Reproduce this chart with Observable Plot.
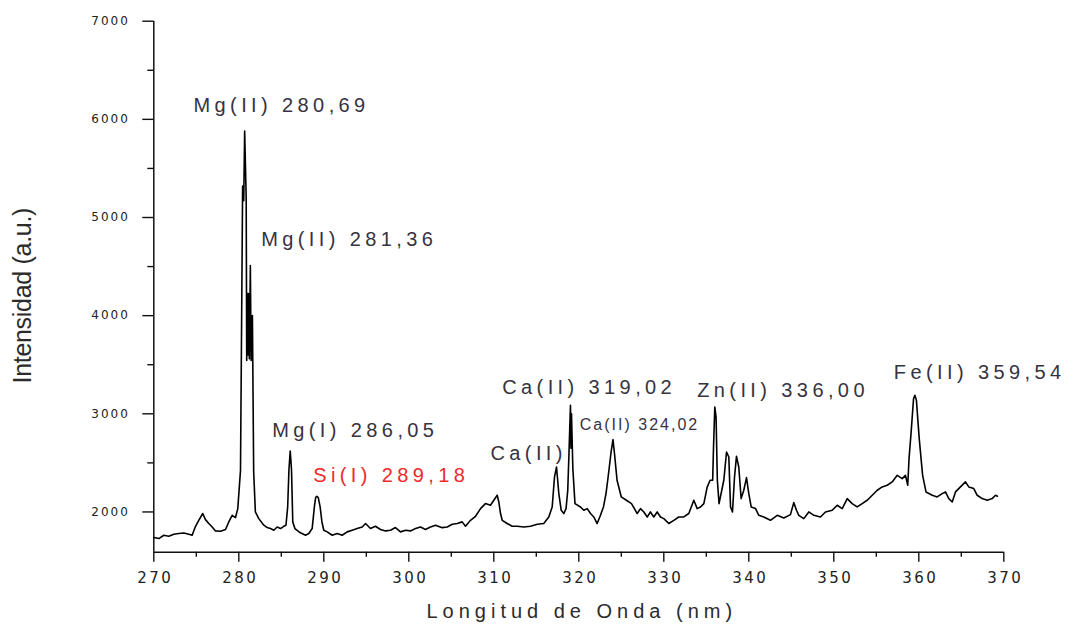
<!DOCTYPE html>
<html>
<head>
<meta charset="utf-8">
<script src="https://cdn.jsdelivr.net/npm/d3@7"></script>
<script src="https://cdn.jsdelivr.net/npm/@observablehq/plot@0.6"></script>
<style>
  body { margin: 0; background: #fff; }
  #chart svg { display: block; }
</style>
</head>
<body>
<div id="chart"></div>
<script>
// Emission spectrum: wavelength (nm) and intensity (a.u.)
const wavelength = [
  270.00, 270.59, 271.18, 271.76, 272.35, 272.94, 273.53, 274.12, 274.51, 274.91,
  275.29, 275.76, 276.08, 276.47, 276.87, 277.26, 277.85, 278.44, 278.82, 279.22,
  279.61, 279.88, 280.20, 280.45, 280.58, 280.69, 280.87, 280.93, 281.00, 281.08,
  281.16, 281.24, 281.36, 281.45, 281.60, 281.75, 281.95, 282.35, 282.94, 283.34,
  283.73, 284.12, 284.51, 284.91, 285.29, 285.55, 285.75, 285.90, 286.05, 286.20,
  286.35, 286.60, 287.20, 287.85, 288.24, 288.63, 288.91, 289.05, 289.18, 289.35,
  289.57, 289.78, 290.00, 290.40, 290.99, 291.58, 292.16, 292.75, 293.34, 293.93,
  294.52, 294.91, 295.49, 296.08, 296.67, 297.26, 297.85, 298.43, 299.02, 299.61,
  300.20, 300.79, 301.38, 301.96, 302.55, 303.14, 303.93, 304.52, 305.11, 305.69,
  306.28, 306.67, 307.26, 307.85, 308.44, 309.02, 309.61, 310.00, 310.40, 310.59,
  310.79, 310.99, 311.58, 312.16, 312.75, 313.53, 314.32, 315.11, 315.88, 316.47,
  316.87, 317.14, 317.38, 317.65, 317.93, 318.24, 318.50, 318.70, 318.85, 319.02,
  319.08, 319.14, 319.30, 319.55, 320.20, 320.59, 320.99, 321.38, 321.76, 322.16,
  322.55, 322.90, 323.20, 323.45, 323.80, 324.02, 324.20, 324.50, 325.00, 325.60,
  326.20, 326.87, 327.26, 327.65, 328.05, 328.43, 328.82, 329.22, 329.61, 330.00,
  330.59, 331.18, 331.76, 332.35, 332.94, 333.53, 333.93, 334.32, 334.71, 335.11,
  335.45, 335.75, 335.85, 336.00, 336.15, 336.30, 336.50, 337.06, 337.38, 337.65,
  337.85, 338.08, 338.32, 338.55, 338.82, 339.10, 339.41, 339.73, 340.00, 340.28,
  340.79, 341.18, 341.76, 342.55, 343.34, 344.12, 344.90, 345.29, 345.61, 345.88,
  346.47, 347.06, 347.65, 348.43, 349.02, 349.81, 350.40, 350.99, 351.58, 352.16,
  352.75, 353.34, 353.93, 354.52, 355.11, 355.69, 356.28, 356.87, 357.46, 358.05,
  358.43, 358.70, 358.85, 359.10, 359.38, 359.54, 359.72, 360.05, 360.45, 360.85,
  361.58, 362.16, 362.75, 363.14, 363.53, 363.93, 364.32, 364.90, 365.49, 365.88,
  366.47, 366.87, 367.46, 368.05, 368.63, 369.02, 369.25
];
const intensity = [
  1739, 1729, 1763, 1753, 1773, 1780, 1786, 1773, 1763, 1854,
  1915, 1984, 1922, 1882, 1847, 1807, 1804, 1821, 1898, 1966,
  1943, 2034, 2424, 5320, 5170, 5880, 5190, 3544, 4224, 3600,
  4224, 3560, 4511, 3544, 4002, 2410, 2000, 1932, 1865, 1841,
  1831, 1814, 1847, 1831, 1854, 1865, 2051, 2432, 2621, 2432,
  1898, 1831, 1790, 1763, 1780, 1831, 2068, 2150, 2160, 2146,
  2051, 1898, 1814, 1797, 1763, 1780, 1763, 1797, 1814, 1831,
  1847, 1882, 1831, 1854, 1821, 1807, 1814, 1841, 1797, 1814,
  1807, 1831, 1847, 1821, 1847, 1865, 1840, 1847, 1875, 1882,
  1899, 1855, 1915, 1956, 2034, 2085, 2068, 2119, 2170, 2102,
  1984, 1915, 1882, 1855, 1855, 1847, 1855, 1875, 1882, 1949,
  2051, 2356, 2458, 2187, 2017, 1984, 2034, 2221, 2611, 3086,
  2650, 3000, 2442, 2085, 2051, 2017, 2034, 1984, 1949, 1882,
  1966, 2051, 2187, 2356, 2611, 2737, 2594, 2323, 2153, 2119,
  2085, 1984, 2034, 2000, 1949, 2000, 1949, 2000, 1949, 1932,
  1882, 1915, 1949, 1949, 1984, 2119, 2034, 2051, 2085, 2255,
  2323, 2323, 2662, 3069, 2967, 2323, 2085, 2323, 2611, 2560,
  2051, 2000, 2356, 2567, 2458, 2136, 2221, 2350, 2187, 2051,
  2034, 1966, 1949, 1915, 1966, 1939, 1973, 2095, 2017, 1966,
  1932, 2000, 1966, 1949, 2000, 2017, 2068, 2034, 2136, 2085,
  2051, 2085, 2119, 2170, 2221, 2255, 2272, 2306, 2373, 2340,
  2373, 2272, 2543, 2815, 3154, 3188, 3137, 2747, 2373, 2204,
  2170, 2153, 2187, 2204, 2136, 2102, 2204, 2255, 2306, 2255,
  2238, 2170, 2136, 2119, 2136, 2170, 2160
];

// Line identifications
const lineNames = [
  "Mg(II) 280,69", "Mg(II) 281,36", "Mg(I) 286,05", "Si(I) 289,18",
  "Ca(II)", "Ca(II) 319,02", "Ca(II) 324,02", "Zn(II) 336,00", "Fe(II) 359,54"
];

// Axis ticks
const xMajorTicks = [270, 280, 290, 300, 310, 320, 330, 340, 350, 360, 370];
const xMinorTicks = [275, 285, 295, 305, 315, 325, 335, 345, 355, 365];
const yMajorTicks = [2000, 3000, 4000, 5000, 6000, 7000];
const yMinorTicks = [2500, 3500, 4500, 5500, 6500];

// Where each identification sits (left edge, in data units), and how it is styled
const labelPlacement = [
  {x: 274.67, y: 6137, size: 20, spacing: 4.4, color: "#37323f"},
  {x: 282.63, y: 4780, size: 20, spacing: 4.4, color: "#37323f"},
  {x: 283.93, y: 2829, size: 20, spacing: 4.4, color: "#37323f"},
  {x: 288.75, y: 2371, size: 20, spacing: 4.4, color: "#ee2a2a"},
  {x: 309.61, y: 2591, size: 20, spacing: 4.4, color: "#37323f"},
  {x: 310.99, y: 3263, size: 20, spacing: 4.4, color: "#37323f"},
  {x: 320.12, y: 2891, size: 16, spacing: 2, color: "#37323f"},
  {x: 333.93, y: 3236, size: 20, spacing: 4.4, color: "#37323f"},
  {x: 357.06, y: 3423, size: 20, spacing: 4.4, color: "#37323f"}
];
const labels = lineNames.map((t, i) => ({t, ...labelPlacement[i]}));

const spectrum = wavelength.map((w, i) => ({w, v: intensity[i]}));
const yMin = 1590;

const xTitle = "Longitud de Onda (nm)";
const yTitle = "Intensidad (a.u.)";

const chart = Plot.plot({
  width: 1078,
  height: 633,
  marginLeft: 153.3,
  marginRight: 74.7,
  marginTop: 20.7,
  marginBottom: 81.3,
  style: {background: "#fff", fontFamily: "'Liberation Sans', Arial, sans-serif"},
  x: {domain: [270, 370]},
  y: {domain: [yMin, 7000]},
  marks: [
    Plot.axisX(xMajorTicks, {tickSize: 10, tickPadding: 10, fontSize: 15, fontFamily: "'DejaVu Sans', sans-serif", fill: "#222", stroke: "#111", strokeWidth: 1.4, tickFormat: d => String(d), label: null}),
    Plot.axisX(xMinorTicks, {tickSize: 5, tickFormat: () => "", stroke: "#111", strokeWidth: 1.4, label: null}),
    Plot.axisY(yMajorTicks, {tickSize: 11, tickPadding: 13, fontSize: 12, fontFamily: "'DejaVu Sans', sans-serif", fill: "#222", stroke: "#111", strokeWidth: 1.4, tickFormat: d => String(d), label: null}),
    Plot.axisY(yMinorTicks, {tickSize: 6, tickFormat: () => "", stroke: "#111", strokeWidth: 1.4, label: null}),
    Plot.ruleX([270], {stroke: "#111", strokeWidth: 1.5}),
    Plot.ruleY([yMin], {stroke: "#111", strokeWidth: 1.5}),
    Plot.line(spectrum, {x: "w", y: "v", stroke: "#000", strokeWidth: 1.6}),
    ...labels.map(d => Plot.text([d], {
      x: "x", y: "y", text: "t", textAnchor: "start", lineAnchor: "middle",
      fontSize: d.size, fill: d.color
    })),
    Plot.text([xTitle], {frameAnchor: "bottom", textAnchor: "middle", lineAnchor: "middle", dy: 59, dx: 3, fontSize: 20, fill: "#2b2b2b"}),
    Plot.text([yTitle], {frameAnchor: "left", textAnchor: "middle", lineAnchor: "middle", dx: -131, dy: 9, rotate: -90, fontSize: 25, fill: "#2b2b2b"})
  ]
});

document.getElementById("chart").appendChild(chart);

// Letter spacing, which Plot has no option for, set by each text's content
const spacingByText = new Map(labels.map(d => [d.t, d.spacing]));
d3.select(chart).selectAll("text").each(function () {
  const s = this.textContent;
  const el = d3.select(this);
  if (spacingByText.has(s)) {
    el.attr("letter-spacing", spacingByText.get(s) + "px");
  } else if (s === xTitle) {
    el.attr("letter-spacing", "5px");
  } else if (s === yTitle) {
    el.attr("letter-spacing", "-0.3px");
  } else if (/^\d+$/.test(s)) {
    const v = +s;
    if (v < 1000) el.attr("letter-spacing", "2.5px").attr("dx", "1.5");
    else el.attr("letter-spacing", "2px");
  }
});
</script>
</body>
</html>
